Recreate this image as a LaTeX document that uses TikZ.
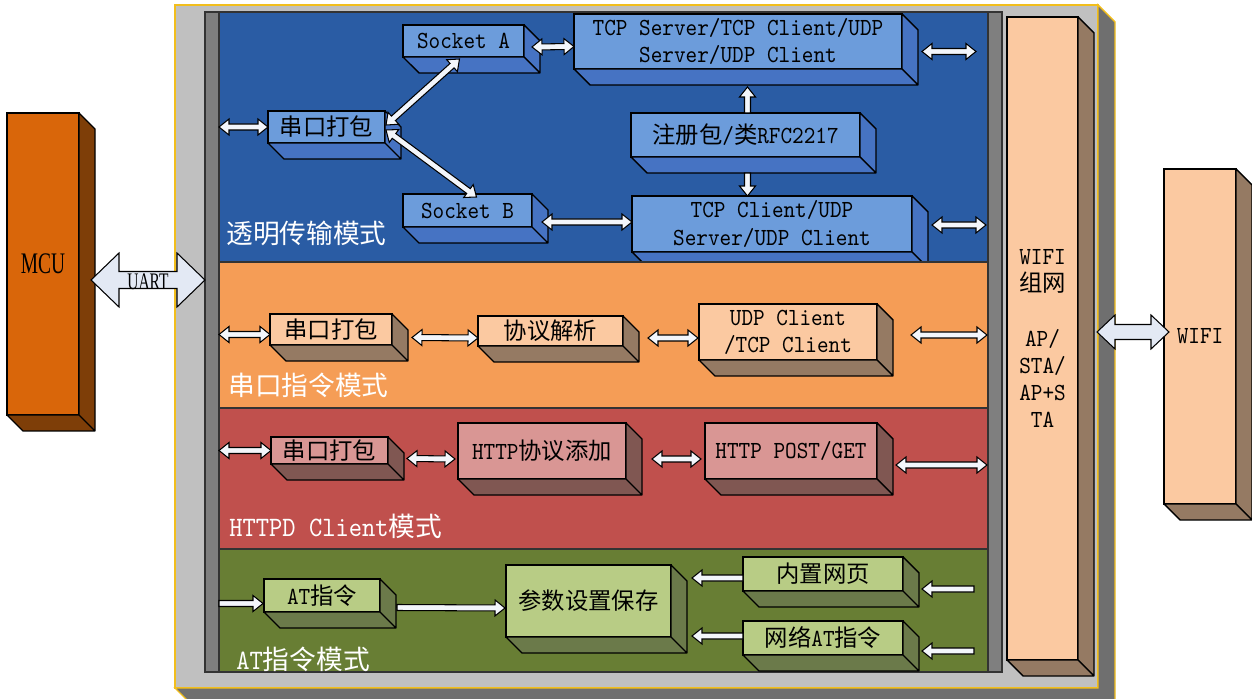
\documentclass[tikz,border=0pt]{standalone}
\usepackage{fontspec}
\setmainfont{Liberation Serif}
\newfontfamily\mono[FakeStretch=0.9]{lmmono10-regular.otf}
\newfontfamily\cjk[Scale=0.95]{Noto Sans CJK SC}
\newfontfamily\narrow[FakeStretch=0.65]{Liberation Serif}
\usetikzlibrary{calc}
\definecolor{framegray}{HTML}{C0C0C0}
\definecolor{framedark}{HTML}{6F6F6F}
\definecolor{frameedge}{HTML}{F2BE1C}
\definecolor{bargray}{HTML}{7F7F7F}
\definecolor{blueband}{HTML}{2A5CA4}
\definecolor{bluefront}{HTML}{6C9CDB}
\definecolor{blueside}{HTML}{4673C3}
\definecolor{orangeband}{HTML}{F59D56}
\definecolor{peach}{HTML}{FBC9A1}
\definecolor{peachside}{HTML}{957A63}
\definecolor{redband}{HTML}{C0504D}
\definecolor{rosefront}{HTML}{D99694}
\definecolor{roseside}{HTML}{805752}
\definecolor{greenband}{HTML}{687E34}
\definecolor{olivefront}{HTML}{B8CC85}
\definecolor{oliveside}{HTML}{6B7A4A}
\definecolor{mcufront}{HTML}{D9660A}
\definecolor{mcuside}{HTML}{7E3E08}
\definecolor{arrowfill}{HTML}{E3E9F4}
\definecolor{arrowlight}{HTML}{F3F6FB}
\newcommand{\boxfont}{\mono\fontsize{14}{15.5}\selectfont}
\newcommand{\modefont}{\mono\fontsize{16}{18}\selectfont}
\newcommand{\zh}[1]{{\cjk #1}}
\newcommand{\sides}[2]{%
    \filldraw[fill=#2, line width=0.8pt, line join=round]
        (#1.north east) -- ++(16,16) -- ($(#1.south east)+(16,16)$) -- ($(#1.south west)+(16,16)$)
        -- (#1.south west) -- (#1.south east) -- cycle
        (#1.south east) -- ++(16,16);
}
\tikzset{
    blk/.style={draw, line width=0.8pt, inner sep=0pt, outer sep=0pt, align=center, font=\boxfont},
    sz/.style args={#1/#2}{minimum width=#1*0.02cm, minimum height=#2*0.02cm},
    frm/.style={draw=frameedge, fill=framegray, line width=0.8pt, inner sep=0pt, outer sep=0pt},
    bar/.style={draw=black!80, fill=bargray, line width=0.6pt, inner sep=0pt, outer sep=0pt},
    band/.style={draw=black!80, line width=0.6pt},
    mode/.style={anchor=west, inner sep=0pt, text=white, font=\modefont},
    twoway/.style args={#1/#2/#3}{draw=black, line width=0.6pt, line join=miter,
        to path={let \p1=(\tikztostart), \p2=(\tikztotarget) in
            (\p1) -- ($(\p1)!#3!(\p2)!#2!90:(\p2)$) -- ($(\p1)!#3!(\p2)!#1!90:(\p2)$)
            -- ($(\p2)!#3!(\p1)!#1!-90:(\p1)$) -- ($(\p2)!#3!(\p1)!#2!-90:(\p1)$)
            -- (\p2) -- ($(\p2)!#3!(\p1)!#2!90:(\p1)$) -- ($(\p2)!#3!(\p1)!#1!90:(\p1)$)
            -- ($(\p1)!#3!(\p2)!#1!-90:(\p2)$) -- ($(\p1)!#3!(\p2)!#2!-90:(\p2)$) -- cycle}},
    oneway/.style args={#1/#2/#3}{draw=black, line width=0.6pt, line join=miter,
        to path={let \p1=(\tikztostart), \p2=(\tikztotarget) in
            ($(\p1)!#1!90:(\p2)$) -- ($(\p2)!#3!(\p1)!#1!-90:(\p1)$) -- ($(\p2)!#3!(\p1)!#2!-90:(\p1)$)
            -- (\p2) -- ($(\p2)!#3!(\p1)!#2!90:(\p1)$) -- ($(\p2)!#3!(\p1)!#1!90:(\p1)$)
            -- ($(\p1)!#1!-90:(\p2)$) -- cycle}},
    dbl/.style={twoway=0.06cm/0.16cm/0.2cm, fill=arrowlight},
    sgl/.style={oneway=0.06cm/0.16cm/0.2cm, fill=arrowlight},
    fat/.style={twoway=0.17cm/0.54cm/0.56cm, fill=arrowfill},
    midfat/.style={twoway=0.15cm/0.34cm/0.36cm, fill=arrowfill}
}

\begin{document}
\begin{tikzpicture}[x=0.02cm, y=-0.02cm]
    \useasboundingbox (0,0) rectangle (1252,699);

    % module frame
    \node[frm, sz=923/683] (frame) at (636.5,346.5) {};
    \filldraw[fill=framedark, draw=frameedge, line width=0.8pt]
        (frame.north east) -- ++(17,17) -- ($(frame.south east)+(17,17)$) -- ($(frame.south west)+(17,17)$)
        -- (frame.south west) -- (frame.south east) -- cycle;
    \node[bar, sz=14/660] (lbar) at (212,342) {};
    \node[bar, sz=14/660] (rbar) at (995,342) {};

    % transparent mode
    \filldraw[band, fill=blueband] (219,12) rectangle (988,262);
    \node[blk, fill=bluefront, sz=121/32] (sa) at (463.5,41) {Socket A};
    \sides{sa}{blueside}
    \node[blk, fill=bluefront, sz=117/32] (bp) at (326.5,127) {\zh{串口打包}};
    \sides{bp}{blueside}
    \node[blk, fill=bluefront, sz=129/33] (sb) at (467.5,210.5) {Socket B};
    \sides{sb}{blueside}
    \node[blk, fill=bluefront, sz=328/55] (tcps) at (738,41.5) {TCP Server/TCP Client/UDP\\Server/UDP Client};
    \sides{tcps}{blueside}
    \node[blk, fill=bluefront, sz=229/44] (reg) at (745.5,135) {\zh{注册包}/\zh{类}RFC2217};
    \sides{reg}{blueside}
    \node[blk, fill=bluefront, sz=280/56] (tcpc) at (772,224) {TCP Client/UDP\\Server/UDP Client};
    \sides{tcpc}{blueside}
    \node[mode] (lbtrans) at (226,233) {\zh{透明传输模式}};

    \draw[dbl] (bp.west -| lbar.east) to (bp.west);
    \draw[dbl] ($(bp.east)+(1,-2)$) to ($(sa.south)+(-4,2)$);
    \draw[dbl] ($(bp.east)+(1,3)$) to ($(sb.north)+(9,3)$);
    \draw[dbl] ($(sa.east)+(8,6)$) to ($(tcps.west)+(0,5)$);
    \draw[dbl] ($(sb.east)+(10,11.5)$) to ($(tcpc.west)+(0,-2)$);
    \draw[dbl] ($(tcps.east)+(20,10)$) to ($(rbar.west |- tcps.east)+(-12,10)$);
    \draw[dbl] ($(tcpc.east)+(20,1)$) to ($(rbar.west |- tcpc.east)+(-2,1)$);
    \draw[sgl] ($(reg.north)+(2,0)$) to ($(reg.north |- tcps.south)+(2,18)$);
    \draw[sgl] ($(reg.south)+(2,16)$) to ($(reg.south |- tcpc.north)+(2,0)$);

    % serial command mode
    \filldraw[band, fill=orangeband] (219,262) rectangle (988,408);
    \node[blk, fill=peach, sz=122/31] (op) at (331,329.5) {\zh{串口打包}};
    \sides{op}{peachside}
    \node[blk, fill=peach, sz=145/30] (proto) at (550.5,331) {\zh{协议解析}};
    \sides{proto}{peachside}
    \node[blk, fill=peach, sz=178/56] (udp) at (788,332) {UDP Client\\/TCP Client};
    \sides{udp}{peachside}
    \node[mode] (lbcmd) at (228,385) {\zh{串口指令模式}};

    \draw[dbl] ($(op.west -| lbar.east)+(0,5)$) to ($(op.west)+(0,5)$);
    \draw[dbl] ($(op.east)+(20,8)$) to ($(proto.west)+(0,7)$);
    \draw[dbl] ($(proto.east)+(25,7)$) to ($(udp.west)+(-1,6)$);
    \draw[dbl] ($(udp.east)+(34,3)$) to ($(rbar.west |- udp.east)+(-1,3)$);

    % httpd client mode
    \filldraw[band, fill=redband] (219,408) rectangle (988,549);
    \node[blk, fill=rosefront, sz=117/27] (rp) at (329.5,450.5) {\zh{串口打包}};
    \sides{rp}{roseside}
    \node[blk, fill=rosefront, sz=168/56] (httpadd) at (542,451) {HTTP\zh{协议添加}};
    \sides{httpadd}{roseside}
    \node[blk, fill=rosefront, sz=172/56] (post) at (791,451) {HTTP POST/GET};
    \sides{post}{roseside}
    \node[mode] (lbhttp) at (229,526) {HTTPD Client\zh{模式}};

    \draw[dbl] (rp.west -| lbar.east) to (rp.west);
    \draw[dbl] ($(rp.east)+(19,8)$) to ($(httpadd.west)+(-3,8)$);
    \draw[dbl] ($(httpadd.east)+(26,8)$) to ($(post.west)+(-4,8)$);
    \draw[dbl] ($(post.east)+(19,14)$) to ($(rbar.west |- post.east)+(-1,14)$);

    % at command mode
    \filldraw[band, fill=greenband] (219,549) rectangle (988,672);
    \node[blk, fill=olivefront, sz=116/33] (at) at (322,595.5) {AT\zh{指令}};
    \sides{at}{oliveside}
    \node[blk, fill=olivefront, sz=165/72] (param) at (588.5,601) {\zh{参数设置保存}};
    \sides{param}{oliveside}
    \node[blk, fill=olivefront, sz=160/34] (web) at (823,574) {\zh{内置网页}};
    \sides{web}{oliveside}
    \node[blk, fill=olivefront, sz=160/34] (netat) at (823,638) {\zh{网络}AT\zh{指令}};
    \sides{netat}{oliveside}
    \node[mode] (lbat) at (236,659) {AT\zh{指令模式}};
    \coordinate (webin) at (974,589);
    \coordinate (netin) at (974,651);

    \draw[sgl] ($(at.west -| lbar.east)+(0,8)$) to ($(at.west)+(-1,8)$);
    \draw[sgl] ($(at.east)+(17,12)$) to ($(param.west)+(-1,7)$);
    \draw[sgl] ($(web.west)+(0,4)$) to ($(param.east |- web.west)+(21,4)$);
    \draw[sgl] ($(netat.west)+(0,-2)$) to ($(param.east |- netat.west)+(21,-2)$);
    \draw[sgl] (webin) to ($(web.east)+(19,15)$);
    \draw[sgl] (netin) to ($(netat.east)+(19,13)$);

    % wifi networking
    \node[blk, fill=peach, sz=71/643] (wifinet) at (1042.5,338.5) {WIFI\\\zh{组网}\\[15.5pt]AP/\\STA/\\AP+S\\TA};
    \sides{wifinet}{peachside}

    % mcu and wifi
    \node[blk, fill=mcufront, sz=72/302, font=\narrow\fontsize{17}{20}\selectfont] (mcu) at (43,264) {MCU};
    \sides{mcu}{mcuside}
    \draw[fat] ($(mcu.east)+(12,16)$) to ($(lbar.west |- mcu.east)+(0,16)$);
    \node[inner sep=0pt, font=\narrow\fontsize{13.5}{16}\selectfont] (uart) at (148,282) {UART};

    \node[blk, fill=peach, sz=72/335] (wifi) at (1200,336.5) {WIFI};
    \sides{wifi}{peachside}
    \draw[midfat] ($(frame.east |- wifi.west)+(-1,-4.5)$) to ($(wifi.west)+(5,-4.5)$);
\end{tikzpicture}
\end{document}
